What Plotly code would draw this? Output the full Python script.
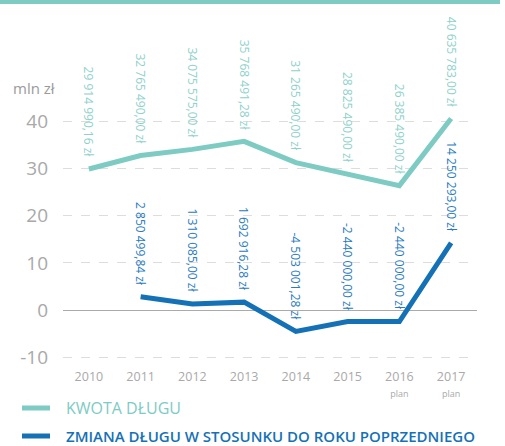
import plotly.graph_objects as go

# Debt figures (PLN) per year
years = ["2010", "2011", "2012", "2013", "2014", "2015", "2016", "2017"]
year_sub = ["", "", "", "", "", "", "plan", "plan"]
debt_pln = [29914990.16, 32765490.00, 34075575.00, 35768491.28,
            31265490.00, 28825490.00, 26385490.00, 40635783.00]
change_pln = [None, 2850499.84, 1310085.00, 1692916.28,
              -4503001.28, -2440000.00, -2440000.00, 14250293.00]
y_ticks = [-10, 0, 10, 20, 30, 40]

TEAL = "#7dcbc3"
TEAL_TXT = "#8fd1ca"
BLUE = "#1571b6"
BLUE_TXT = "#2a7bbd"
GREY = "#a9a9a9"
FONT = "Open Sans"

W, H = 505, 446
M_L, M_R, M_T, M_B = 63, 28, 112, 84
PLOT_W = W - M_L - M_R
PLOT_H = H - M_T - M_B


def fmt_pln(v):
    sign = "-" if v < 0 else ""
    cents_total = int(round(abs(v) * 100))
    whole, cents = divmod(cents_total, 100)
    s = f"{whole:,}".replace(",", " ")
    return f"{sign}{s},{cents:02d} zł"


# paper coordinates from figure pixels (paper spans the plot area)
def px(x):
    return (x - M_L) / PLOT_W


def py(y):
    return (H - M_B - y) / PLOT_H


debt_mln = [v / 1e6 for v in debt_pln]
change_mln = [None if v is None else v / 1e6 for v in change_pln]
x_idx = list(range(len(years)))

fig = go.Figure()
fig.add_trace(go.Scatter(x=x_idx, y=debt_mln, mode="lines",
                         line=dict(color=TEAL, width=5),
                         name="KWOTA DŁUGU"))
fig.add_trace(go.Scatter(x=x_idx, y=change_mln, mode="lines",
                         line=dict(color=BLUE, width=5),
                         name="ZMIANA DŁUGU W STOSUNKU DO ROKU POPRZEDNIEGO"))

annotations = []
for vals, color in ((debt_pln, TEAL_TXT), (change_pln, BLUE_TXT)):
    for i, v in enumerate(vals):
        if v is None:
            continue
        annotations.append(dict(x=i, y=v / 1e6, xref="x", yref="y",
                                text=fmt_pln(v), textangle=90, showarrow=False,
                                xanchor="center", yanchor="bottom", yshift=9,
                                font=dict(family=FONT, size=12, color=color)))

# unit label
annotations.append(dict(x=px(11), y=py(88), xref="paper", yref="paper",
                        text="mln zł", showarrow=False,
                        xanchor="left", yanchor="middle",
                        font=dict(family=FONT, size=15, color="#9a9a9a")))

# legend drawn by hand below the chart
annotations.append(dict(x=px(64), y=py(408), xref="paper", yref="paper",
                        text="KWOTA DŁUGU", showarrow=False,
                        xanchor="left", yanchor="middle",
                        font=dict(family=FONT, size=16, color=TEAL)))
annotations.append(dict(x=px(64), y=py(436), xref="paper", yref="paper",
                        text="ZMIANA DŁUGU W STOSUNKU DO ROKU POPRZEDNIEGO",
                        showarrow=False, xanchor="left", yanchor="middle",
                        font=dict(family=FONT, size=15, color=BLUE,
                                  weight=600)))

shapes = [
    dict(type="rect", xref="paper", yref="paper", x0=px(0), x1=px(500),
         y0=py(0), y1=py(4), fillcolor=TEAL, line=dict(width=0)),
    dict(type="line", xref="paper", yref="paper", x0=px(22), x1=px(50),
         y0=py(408), y1=py(408), line=dict(color=TEAL, width=5)),
    dict(type="line", xref="paper", yref="paper", x0=px(22), x1=px(50),
         y0=py(436), y1=py(436), line=dict(color=BLUE, width=5)),
]

ticktext = [y if s == "" else f"{y}<br><span style='font-size:9px'>{s}</span>"
            for y, s in zip(years, year_sub)]

fig.update_layout(
    width=W, height=H,
    margin=dict(l=M_L, r=M_R, t=M_T, b=M_B),
    paper_bgcolor="white", plot_bgcolor="white",
    font=dict(family=FONT),
    annotations=annotations, shapes=shapes,
    xaxis=dict(range=[-0.5, 7.5], tickmode="array", tickvals=x_idx,
               ticktext=ticktext, showgrid=False, zeroline=False,
               showline=False, tickfont=dict(size=12.5, color=GREY),
               ticklabelstandoff=5, fixedrange=True),
    yaxis=dict(range=[-11, 42], tickmode="array", tickvals=y_ticks,
               ticktext=[str(t) for t in y_ticks],
               showgrid=True, gridcolor="#dddddd", griddash="dash",
               gridwidth=1, zeroline=True, zerolinecolor="#aaaaaa",
               zerolinewidth=1, showline=False,
               tickfont=dict(size=19, color=GREY), ticklabelstandoff=14,
               fixedrange=True),
    showlegend=False,
)

fig.write_html("out.html")
